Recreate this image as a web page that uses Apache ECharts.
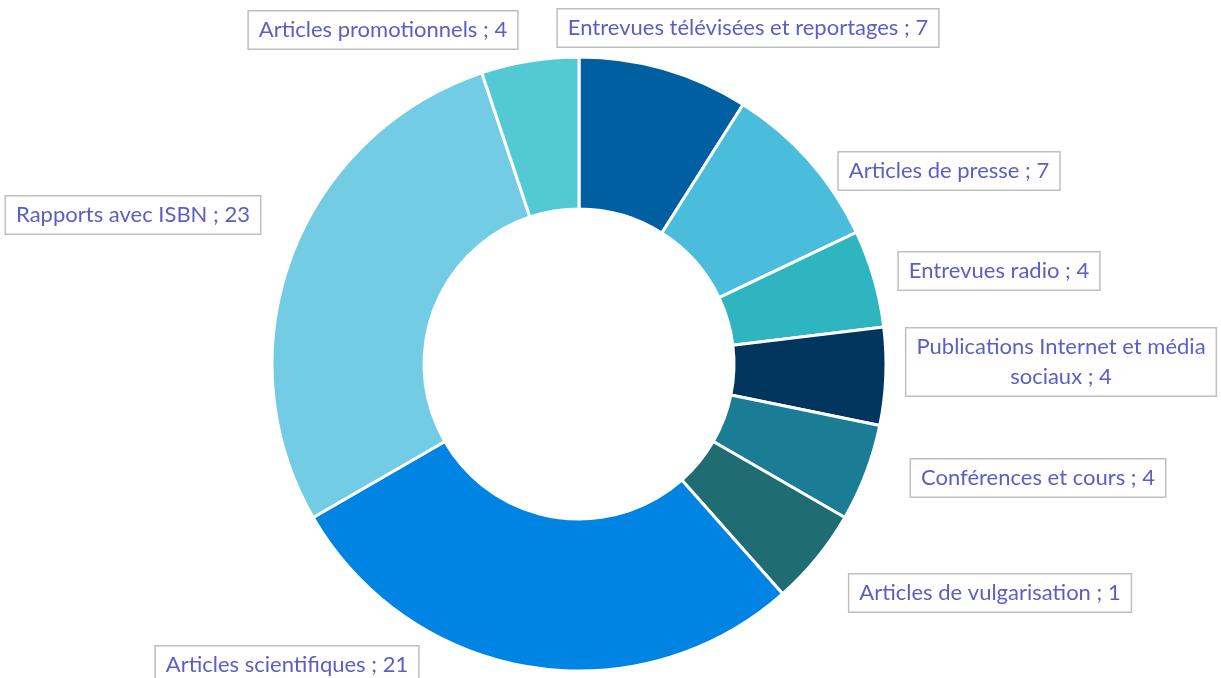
<!DOCTYPE html>
<html>
<head>
<meta charset="utf-8">
<script src="https://cdn.jsdelivr.net/npm/echarts@6/dist/echarts.min.js"></script>
<style>
  html, body { margin: 0; padding: 0; background: #fff; }
  #chart { width: 1221px; height: 678px; }
</style>
</head>
<body>
<div id="chart"></div>
<script>
const categories = [
  'Entrevues télévisées et reportages',
  'Articles de presse',
  'Entrevues radio',
  'Publications Internet et média\nsociaux',
  'Conférences et cours',
  'Articles de vulgarisation',
  'Articles scientifiques',
  'Rapports avec ISBN',
  'Articles promotionnels'
]
// slice sizes as drawn in the picture
const values = [7, 7, 4, 4, 4, 4, 22, 22, 4]
// numbers printed in the labels
const labelValues = [7, 7, 4, 4, 4, 1, 21, 23, 4]
const colors = ['#005FA1', '#4ABDDD', '#2EB5C0', '#00365E', '#1B7C95', '#1F6C72', '#0084E4', '#72CDE4', '#53C9D3']

// label box centres (layout only)
const labelPos = [
  [748, 28], [949, 171], [999, 271], [1061, 362], [1038, 478],
  [990, 593], [287, 665], [133, 215], [383, 30]
]

const chart = echarts.init(document.getElementById('chart'))
const option = {
  animation: false,
  series: [
    {
      type: 'pie',
      center: [579, 364],
      radius: [155, 307],
      startAngle: 90,
      clockwise: true,
      avoidLabelOverlap: false,
      data: categories.map((name, i) => ({
        name: name,
        value: values[i],
        itemStyle: { color: colors[i] }
      })),
      itemStyle: { borderColor: '#fff', borderWidth: 3 },
      label: {
        show: true,
        position: 'outside',
        formatter: p => p.name + ' ; ' + labelValues[p.dataIndex],
        color: '#5B5EC6',
        fontFamily: 'Lato',
        fontSize: 22,
        lineHeight: 30,
        align: 'center',
        backgroundColor: '#fff',
        borderColor: '#BFBFBF',
        borderWidth: 1.5,
        padding: [4, 10, 3, 10]
      },
      labelLine: { show: false },
      labelLayout: params => ({
        x: labelPos[params.dataIndex][0],
        y: labelPos[params.dataIndex][1],
        align: 'center',
        verticalAlign: 'middle'
      }),
      emphasis: { disabled: true }
    }
  ]
}
chart.setOption(option)
</script>
</body>
</html>
